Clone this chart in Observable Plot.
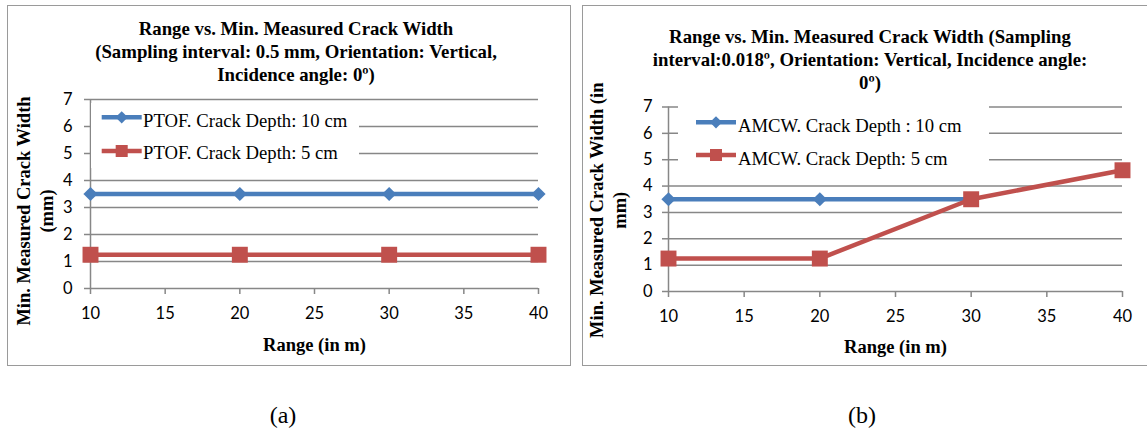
<!DOCTYPE html>
<html><head><meta charset="utf-8">
<script src="https://cdn.jsdelivr.net/npm/d3@7"></script>
<script src="https://cdn.jsdelivr.net/npm/@observablehq/plot@0.6"></script>
<style>
body{margin:0;background:#fff;width:1147px;height:431px;position:relative;overflow:hidden;font-family:"Liberation Serif","DejaVu Serif",serif;color:#000;}
.panel{position:absolute;border:1.5px solid #9a9a9a;box-sizing:border-box;}
.plot{position:absolute;top:0;}
.plot svg{overflow:visible;}
.title{position:absolute;text-align:center;font-weight:bold;font-size:18.8px;line-height:23px;white-space:nowrap;transform:translateX(-50%);}
.legend{position:absolute;background:#fff;}
.legend svg{display:block;overflow:visible;}
.caption{position:absolute;font-size:24px;transform:translate(-50%,-50%);}
</style></head><body>
<div class="panel" style="left:7px;top:5px;width:564px;height:361px;"></div>
<div class="panel" style="left:582px;top:5px;width:580px;height:361px;"></div>
<div id="plotA" class="plot" style="left:0px;"></div>
<div id="plotB" class="plot" style="left:575px;"></div>
<div class="title" style="left:296px;top:17px;">Range vs. Min. Measured Crack Width<br>(Sampling interval: 0.5 mm, Orientation: Vertical,<br>Incidence angle: 0º)</div>
<div class="title" style="left:870px;top:25px;">Range vs. Min. Measured Crack Width (Sampling<br>interval:0.018º, Orientation: Vertical, Incidence angle:<br>0º)</div>
<div id="legA" class="legend" style="left:91px;top:103px;width:268px;height:65px;"></div>
<div id="legB" class="legend" style="left:678px;top:100px;width:311px;height:72px;"></div>
<div class="caption" style="left:283px;top:415px;">(a)</div>
<div class="caption" style="left:862px;top:415px;">(b)</div>
<script>
// ---- data ----
const ranges = [10, 20, 30, 40];
const xTicks = [10, 15, 20, 25, 30, 35, 40];
const yTicks = [0, 1, 2, 3, 4, 5, 6, 7];
const ptof10 = [3.5, 3.5, 3.5, 3.5];
const ptof5 = [1.25, 1.25, 1.25, 1.25];
const amcw10 = [3.5, 3.5, 3.5];
const amcw5 = [1.25, 1.25, 3.5, 4.6];
const seriesNamesA = ["PTOF. Crack Depth: 10 cm", "PTOF. Crack Depth: 5 cm"];
const seriesNamesB = ["AMCW. Crack Depth : 10 cm", "AMCW. Crack Depth: 5 cm"];
const yLabelA = "Min. Measured Crack Width\n(mm)";
const yLabelB = "Min. Measured Crack Width (in\nmm)";
const xLabel = "Range (in m)";

const BLUE = "#4a7ebb", RED = "#c0504d", GRID = "#878787";
const SERIF = "Liberation Serif, DejaVu Serif, serif";
const SANS = "Lato, Open Sans, sans-serif";
const TICK_FS = 16.5;

function rows(vals) { return vals.map((v, i) => ({x: ranges[i], y: v})); }

function panel(o) {
  const r10 = rows(o.v10), r5 = rows(o.v5);
  return Plot.plot({
    width: o.width, height: 366,
    marginLeft: o.ml, marginRight: o.mr, marginTop: o.mt, marginBottom: o.mb,
    style: {fontFamily: SANS, fontSize: TICK_FS + "px", color: "#000", background: "transparent"},
    x: {domain: [10, 40]},
    y: {domain: [0, 7]},
    marks: [
      Plot.gridY({ticks: yTicks, stroke: GRID, strokeOpacity: 1, strokeWidth: 1.5}),
      Plot.ruleX([10], {stroke: GRID, strokeWidth: 1.5}),
      Plot.axisY({ticks: yTicks, tickFormat: d => String(d), tickSize: 6, tickPadding: o.ytp, stroke: GRID, strokeWidth: 1.5, strokeOpacity: 1, fill: "#000", fontSize: TICK_FS, fontFamily: SANS, label: null}),
      Plot.axisX({ticks: xTicks, tickFormat: d => String(d), tickSize: 6, tickPadding: 13, stroke: GRID, strokeWidth: 1.5, strokeOpacity: 1, fill: "#000", fontSize: TICK_FS, fontFamily: SANS, label: null}),
      Plot.line(r10, {x: "x", y: "y", stroke: BLUE, strokeWidth: 4.5}),
      Plot.dot(r10, {x: "x", y: "y", symbol: "diamond2", r: 6.4, fill: BLUE, stroke: "none"}),
      Plot.line(r5, {x: "x", y: "y", stroke: RED, strokeWidth: 4.5}),
      Plot.dot(r5, {x: "x", y: "y", symbol: "square", r: 9, fill: RED, stroke: "none"}),
      Plot.text([o.ylabel], {text: d => d, frameAnchor: "left", rotate: -90, textAnchor: "middle", lineAnchor: "middle", lineHeight: 1.25, dx: o.ydx, dy: o.ydy, fontWeight: "bold", fontSize: 18.5, fontFamily: SERIF, fill: "#000"}),
      Plot.text([xLabel], {text: d => d, frameAnchor: "bottom", lineAnchor: "middle", dy: o.xdy, fontWeight: "bold", fontSize: 18.5, fontFamily: SERIF, fill: "#000"})
    ]
  });
}

document.getElementById("plotA").append(panel({
  width: 575, ml: 90, mr: 37, mt: 99, mb: 78, ytp: 12,
  v10: ptof10, v5: ptof5, ylabel: yLabelA, ydx: -56, ydy: 17, xdy: 57
}));
document.getElementById("plotB").append(panel({
  width: 572, ml: 93, mr: 25, mt: 106.5, mb: 75, ytp: 10,
  v10: amcw10, v5: amcw5, ylabel: yLabelB, ydx: -61, ydy: 11, xdy: 56
}));

function legend(id, names, o) {
  const w = o.w, h = o.h;
  const svg = d3.select("#" + id).append("svg").attr("width", w).attr("height", h);
  const cols = [BLUE, RED];
  names.forEach((name, i) => {
    const yl = o.ly[i], yb = o.by[i];
    svg.append("line").attr("x1", o.x1).attr("x2", o.x2).attr("y1", yl).attr("y2", yl)
      .attr("stroke", cols[i]).attr("stroke-width", 4.5);
    const sym = i === 0 ? d3.symbol(d3.symbolDiamond2, 95) : d3.symbol(d3.symbolSquare, 145);
    svg.append("path").attr("d", sym()).attr("transform", `translate(${(o.x1 + o.x2) / 2},${yl})`).attr("fill", cols[i]);
    svg.append("text").attr("x", o.tx).attr("y", yb).text(name)
      .attr("font-family", SERIF).attr("font-size", 18.7).attr("fill", "#000");
  });
}
legend("legA", seriesNamesA, {w: 268, h: 65, x1: 10.7, x2: 50.7, tx: 52, ly: [14.3, 48], by: [23.7, 56.3]});
legend("legB", seriesNamesB, {w: 311, h: 72, x1: 18, x2: 58, tx: 60, ly: [22.3, 55], by: [31.7, 65]});
</script>
</body></html>
